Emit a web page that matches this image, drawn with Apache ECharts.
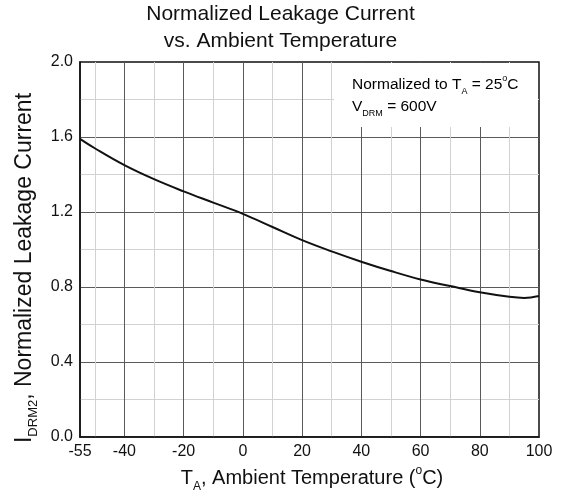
<!DOCTYPE html>
<html>
<head>
<meta charset="utf-8">
<script src="https://cdn.jsdelivr.net/npm/echarts@6/dist/echarts.min.js"></script>
<style>
html,body{margin:0;padding:0;background:#fff;}
#chart{width:561px;height:497px;}
</style>
</head>
<body>
<div id="chart"></div>
<script>
// ---- data ----
const temperatures = [-55, -50, -40, -30, -20, -10, 0, 10, 20, 30, 40, 50, 60, 70, 80, 90, 95, 100];
const leakage = [1.59, 1.54, 1.45, 1.375, 1.31, 1.25, 1.19, 1.12, 1.05, 0.99, 0.935, 0.885, 0.84, 0.805, 0.772, 0.748, 0.742, 0.752];
const xTickLabels = [-55, -40, -20, 0, 20, 40, 60, 80, 100];
const yTickLabels = [0.0, 0.4, 0.8, 1.2, 1.6, 2.0];
const titleText = 'Normalized Leakage Current\nvs. Ambient Temperature';

const FONT = '"Liberation Sans", Arial, sans-serif';
const DARK = '#5a5a5a';
const LIGHT = '#d2d2d2';
const TXT = '#111';

function makeRich(size, subSize, lh, subLh) {
  return {
    m: {fontSize: size, lineHeight: lh, fontFamily: FONT, color: TXT},
    sub: {fontSize: subSize, lineHeight: subLh, verticalAlign: 'bottom', fontFamily: FONT, color: TXT},
    sup: {fontSize: subSize, lineHeight: subLh, verticalAlign: 'top', fontFamily: FONT, color: TXT}
  };
}
const richX = makeRich(20, 12, 28, 14);
const richY = makeRich(23, 13, 30, 15);
const richSmall = makeRich(15.5, 9, 22, 10);

const data = temperatures.map((t, i) => [t, leakage[i]]);

const chart = echarts.init(document.getElementById('chart'), null, {renderer: 'canvas'});
chart.setOption({
  animation: false,
  backgroundColor: '#fff',
  title: {
    text: titleText,
    left: 'center',
    top: 1,
    padding: [0, 0, 0, 9],
    textStyle: {fontSize: 21, fontWeight: 'normal', fontFamily: FONT, color: TXT, lineHeight: 27}
  },
  grid: {
    left: 80, right: 22, top: 62, bottom: 60,
    show: true, borderColor: '#111', borderWidth: 1.5,
    containLabel: false, outerBoundsMode: 'none'
  },
  xAxis: {
    type: 'value', min: -55, max: 100, interval: 5,
    name: '{m|T}{sub|A}{m|, Ambient Temperature (}{sup|o}{m|C)}',
    nameLocation: 'middle', nameGap: 26,
    nameTextStyle: {rich: richX, padding: [0, 0, 0, 5]},
    axisLine: {show: true, onZero: false, lineStyle: {color: '#111', width: 1.5}},
    axisTick: {show: false},
    axisLabel: {
      margin: 7, fontSize: 16, fontFamily: FONT, color: TXT,
      formatter: v => xTickLabels.indexOf(v) >= 0 ? String(v) : ''
    },
    splitLine: {show: true, showMaxLine: false, lineStyle: {color: ['rgba(0,0,0,0)', LIGHT, 'rgba(0,0,0,0)', DARK], width: 1}}
  },
  yAxis: {
    type: 'value', min: 0, max: 2, interval: 0.2,
    name: '{m|I}{sub|DRM2}{m|, Normalized Leakage Current}',
    nameLocation: 'middle', nameGap: 40,
    nameTextStyle: {rich: richY, padding: [0, 37, 0, 0]},
    axisLine: {show: true, onZero: false, lineStyle: {color: '#111', width: 1.5}},
    axisTick: {show: false},
    axisLabel: {
      margin: 7, fontSize: 16, fontFamily: FONT, color: TXT,
      formatter: v => {
        const hit = yTickLabels.find(t => Math.abs(t - v) < 1e-6);
        return hit !== undefined ? hit.toFixed(1) : '';
      }
    },
    splitLine: {show: true, showMaxLine: false, lineStyle: {color: [DARK, LIGHT], width: 1}}
  },
  graphic: [
    {type: 'rect', z: 1, shape: {x: 334, y: 63, width: 204, height: 64}, style: {fill: '#fff'}},
    {type: 'text', z: 1, x: 352, y: 74, style: {
      text: '{m|Normalized to T}{sub|A}{m| = 25}{sup|o}{m|C}\n{m|V}{sub|DRM}{m| = 600V}',
      rich: richSmall
    }}
  ],
  series: [{
    type: 'line', data: data, smooth: 0.4, showSymbol: false, z: 3,
    lineStyle: {color: '#111', width: 2}, itemStyle: {color: '#111'}
  }]
});
</script>
</body>
</html>
